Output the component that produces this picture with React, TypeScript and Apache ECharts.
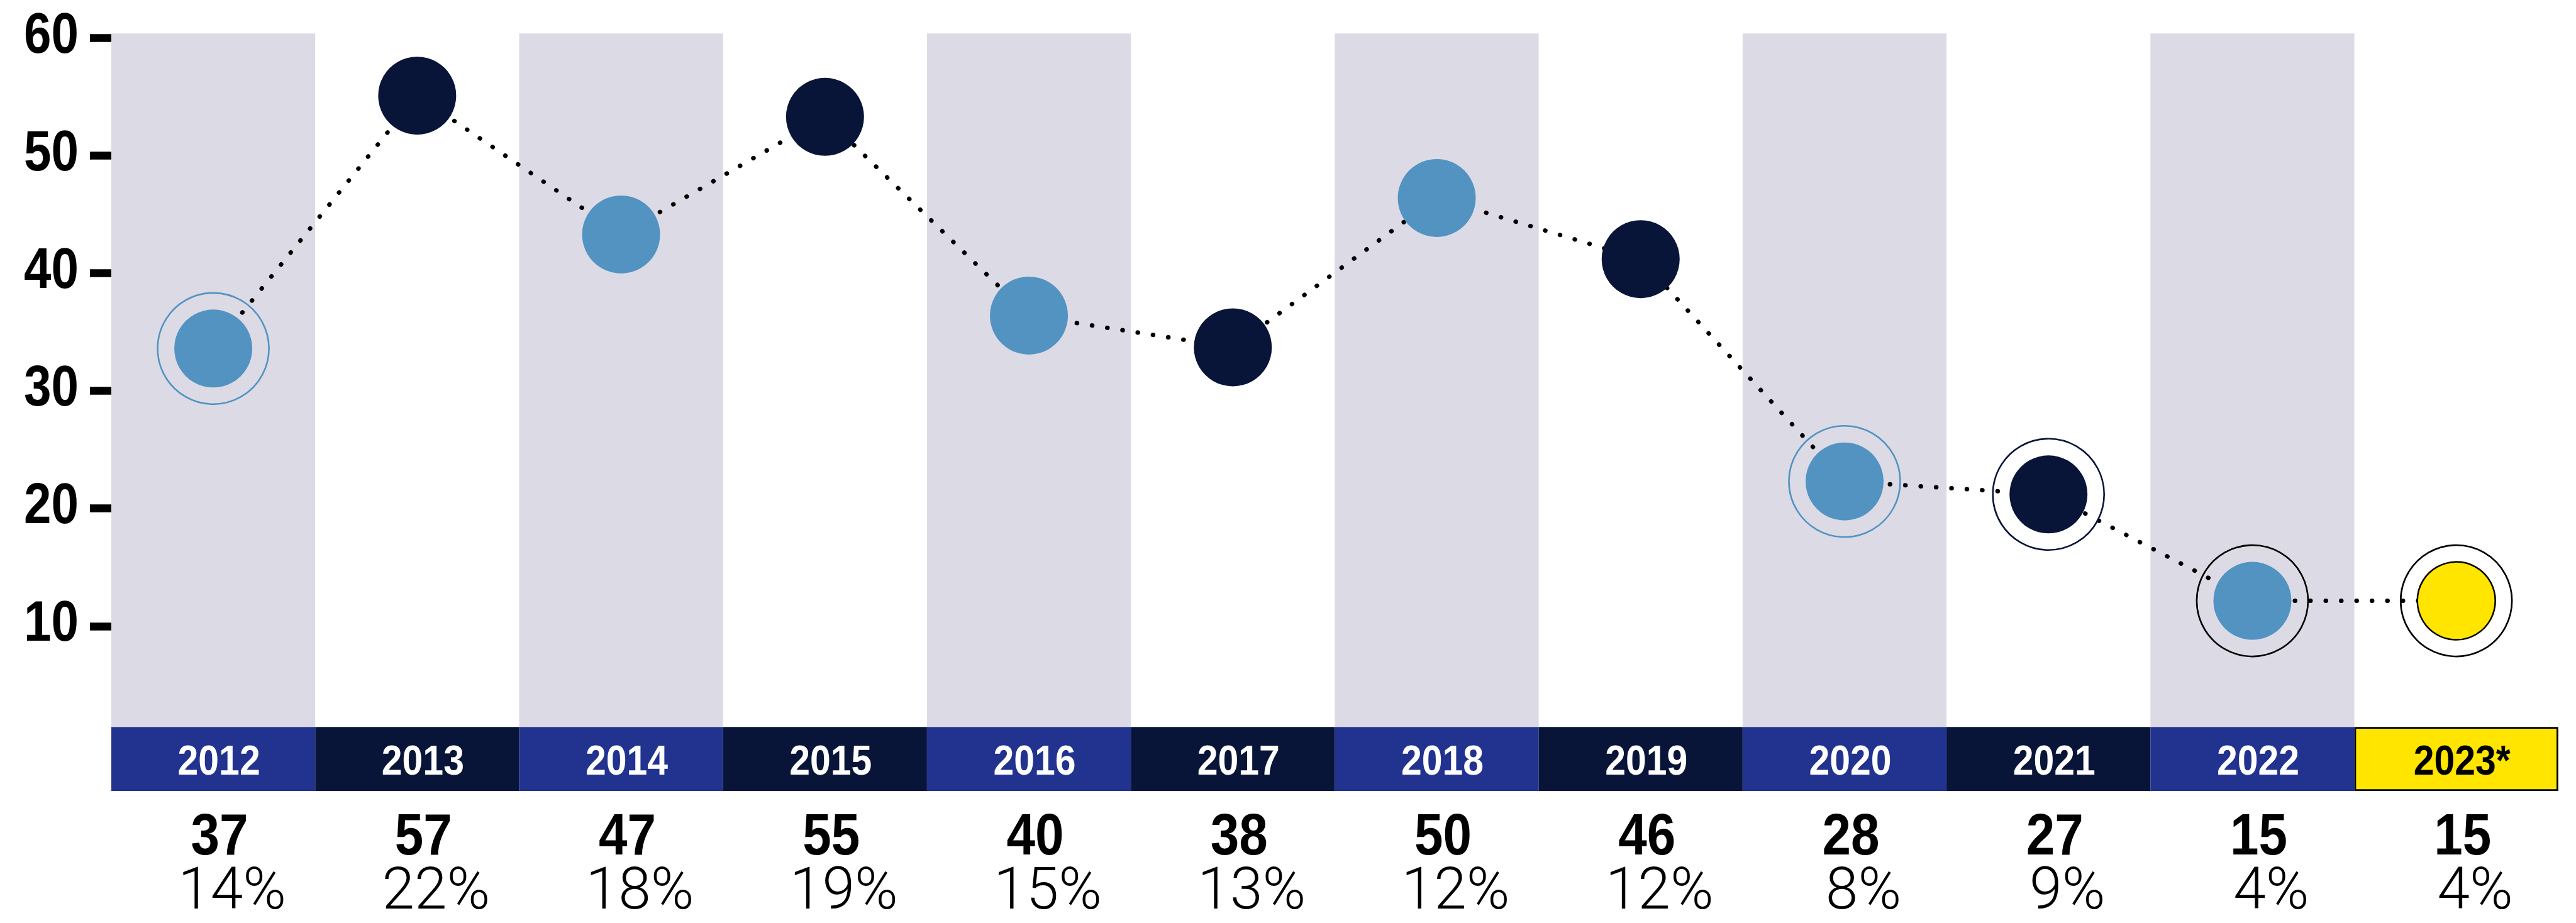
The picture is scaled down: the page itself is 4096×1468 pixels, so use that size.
import React, { useEffect, useRef } from "react";
import * as echarts from "echarts";

const years = ["2012", "2013", "2014", "2015", "2016", "2017", "2018", "2019", "2020", "2021", "2022", "2023*"];
const pointValues = [33.6, 55.1, 43.3, 53.3, 36.4, 33.7, 46.4, 41.2, 22.3, 21.2, 12.15, 12.15];
const counts = ["37", "57", "47", "55", "40", "38", "50", "46", "28", "27", "15", "15"];
const shares = ["14%", "22%", "18%", "19%", "15%", "13%", "12%", "12%", "8%", "9%", "4%", "4%"];
const yTicks = [10, 20, 30, 40, 50, 60];
const ringed = [true, false, false, false, false, false, false, false, true, true, true, true];

const LIGHT = "#5293C2";
const NAVY = "#081539";
const BLUE = "#21338F";
const YELLOW = "#FFE500";
const GRAY = "#DCDBE5";
const BOLD = "'Liberation Sans', Arial, Helvetica, sans-serif";
const LIGHTFONT = "Roboto, 'Liberation Sans', sans-serif";

function pointColor(i: number) {
  if (i === years.length - 1) return YELLOW;
  return i % 2 === 0 ? LIGHT : NAVY;
}
function ringColor(i: number) {
  if (i >= 10) return "#000000";
  return i % 2 === 0 ? LIGHT : NAVY;
}
function boxColor(i: number) {
  if (i === years.length - 1) return YELLOW;
  return i % 2 === 0 ? BLUE : NAVY;
}

function txt(
  text: string,
  x: number,
  y: number,
  opts: { size: number; family: string; weight: any; color: string; align: string; scaleX: number }
) {
  return {
    type: "text",
    x,
    y,
    scaleX: opts.scaleX,
    z: 100,
    silent: true,
    style: {
      text,
      fontSize: opts.size,
      fontFamily: opts.family,
      fontWeight: opts.weight,
      fill: opts.color,
      align: opts.align,
      verticalAlign: "middle",
      textAlign: opts.align,
      textVerticalAlign: "middle",
    },
  };
}

export default function App() {
  const ref = useRef<HTMLDivElement>(null);
  useEffect(() => {
    if (!ref.current) return;
    const chart = echarts.init(ref.current, null, { renderer: "svg" });
    const left = 177;
    const right = 28.2;
    chart.setOption({
      animation: false,
      backgroundColor: "#ffffff",
      grid: [
        { left, right, top: 53.2, height: 1103.1 },
        { left, right, top: 1156.3, height: 101.8 },
      ],
      xAxis: [
        {
          type: "category",
          gridIndex: 0,
          data: years,
          boundaryGap: true,
          axisLine: { show: false },
          axisTick: { show: false },
          axisLabel: { show: false },
          splitLine: { show: false },
          splitArea: { show: true, interval: 0, areaStyle: { color: [GRAY, "rgba(255,255,255,0)"] } },
        },
        {
          type: "category",
          gridIndex: 1,
          data: years,
          boundaryGap: true,
          axisLine: { show: false },
          axisTick: { show: false },
          axisLabel: { show: false },
          splitLine: { show: false },
        },
      ],
      yAxis: [
        {
          type: "value",
          gridIndex: 0,
          min: 1.42,
          max: 60.39,
          axisLine: { show: false },
          splitLine: { show: false },
          axisTick: {
            show: true,
            length: 34,
            customValues: yTicks,
            lineStyle: { color: "#000", width: 12.5 },
          },
          axisLabel: { show: false },
        },
        {
          type: "value",
          gridIndex: 1,
          min: 0,
          max: 1,
          show: false,
        },
      ],
      series: [
        {
          type: "bar",
          xAxisIndex: 1,
          yAxisIndex: 1,
          barWidth: "100%",
          barCategoryGap: 0,
          silent: true,
          data: years.map((y, i) => ({
            value: 1,
            itemStyle:
              i === years.length - 1
                ? { color: YELLOW, borderColor: "#000", borderWidth: 2.75, opacity: 1 }
                : { color: boxColor(i), opacity: 1 },
          })),
          z: 3,
        },
        {
          type: "line",
          xAxisIndex: 0,
          yAxisIndex: 0,
          data: pointValues,
          symbol: "none",
          silent: true,
          lineStyle: { color: "#000000", width: 7, type: [0.5, 24], cap: "round", opacity: 1 },
          z: 2,
        },
        {
          type: "scatter",
          xAxisIndex: 0,
          yAxisIndex: 0,
          symbolSize: 177,
          silent: true,
          data: pointValues.map((v, i) =>
            ringed[i]
              ? {
                  value: v,
                  itemStyle: { color: "rgba(0,0,0,0)", borderColor: ringColor(i), borderWidth: 2.6, opacity: 1 },
                }
              : { value: "-" }
          ),
          z: 3,
        },
        {
          type: "scatter",
          xAxisIndex: 0,
          yAxisIndex: 0,
          symbolSize: 124,
          silent: true,
          itemStyle: { opacity: 1 },
          data: pointValues.map((v, i) => ({
            value: v,
            itemStyle:
              i === years.length - 1
                ? { color: YELLOW, borderColor: "#000", borderWidth: 2.5, opacity: 1 }
                : { color: pointColor(i), opacity: 1 },
          })),
          z: 4,
        },
      ],
    });

    const xc = (i: number) => chart.convertToPixel({ xAxisIndex: 0 }, i) as number;
    const yv = (v: number) => chart.convertToPixel({ yAxisIndex: 0 }, v) as number;
    const barMid = chart.convertToPixel({ yAxisIndex: 1 }, 0.5) as number;
    const barBottom = chart.convertToPixel({ yAxisIndex: 1 }, 0) as number;

    const elements: any[] = [];
    yTicks.forEach((t) => {
      elements.push(
        txt(String(t), 125, yv(t) - 8, {
          size: 91,
          family: BOLD,
          weight: "bold",
          color: "#000",
          align: "right",
          scaleX: 0.86,
        })
      );
    });
    years.forEach((y, i) => {
      const cx = xc(i);
      elements.push(
        txt(y, cx + 9, barMid + 1, {
          size: 67,
          family: BOLD,
          weight: "bold",
          color: i === years.length - 1 ? "#000" : "#fff",
          align: "center",
          scaleX: 0.88,
        })
      );
      elements.push(
        txt(counts[i], cx + 10, barBottom + 69, {
          size: 92,
          family: BOLD,
          weight: "bold",
          color: "#000",
          align: "center",
          scaleX: 0.89,
        })
      );
      elements.push(
        txt(shares[i], cx + 30, barBottom + 155, {
          size: 93,
          family: LIGHTFONT,
          weight: 300,
          color: "#000",
          align: "center",
          scaleX: 1,
        })
      );
    });
    chart.setOption({ graphic: { elements } });

    return () => chart.dispose();
  }, []);
  return (
    <div
      ref={ref}
      style={{ position: "fixed", left: 0, top: 0, width: 4096, height: 1468, background: "#fff" }}
    />
  );
}
